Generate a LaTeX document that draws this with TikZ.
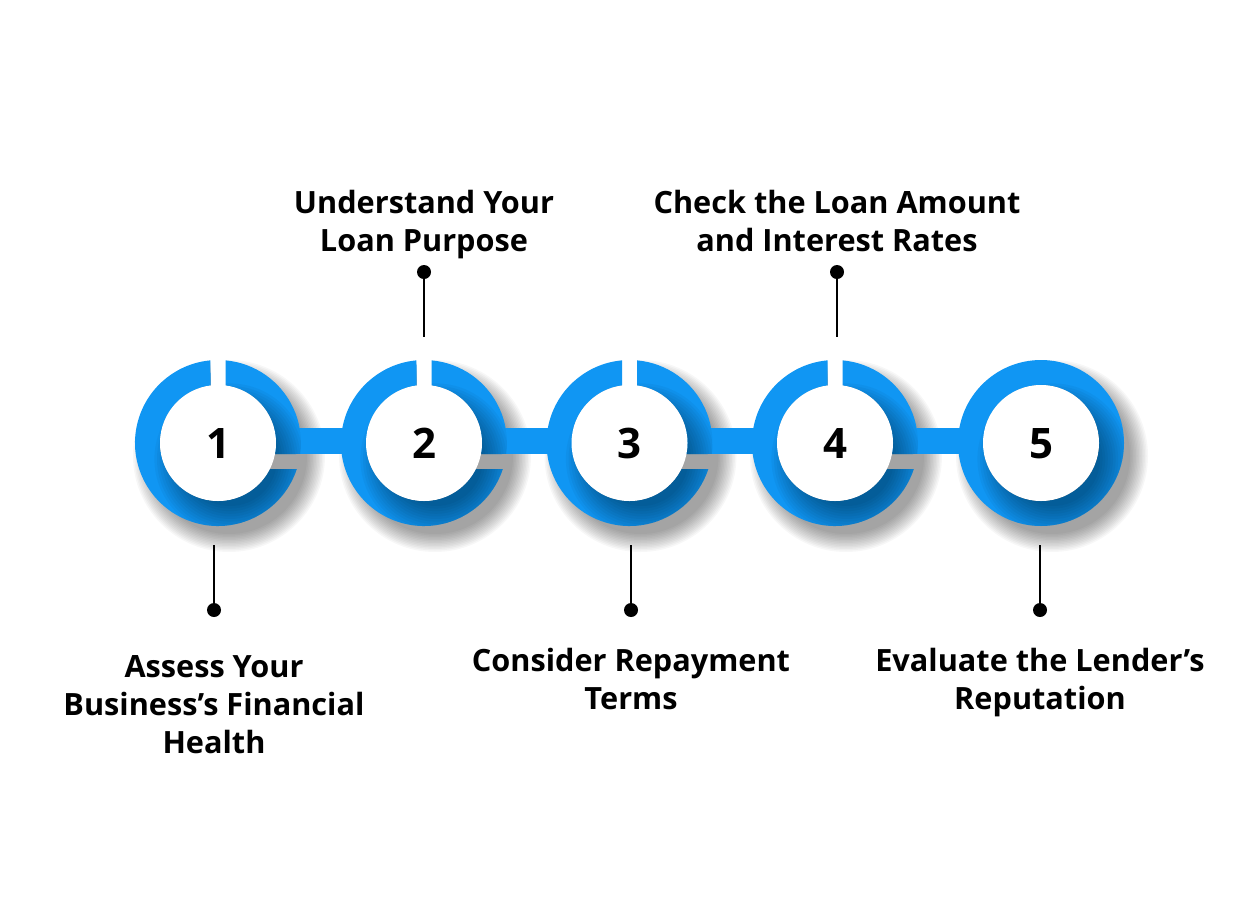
\documentclass[tikz,border=0pt]{standalone}
\usepackage{fontspec}
\setmainfont{Open Sans}
\usetikzlibrary{backgrounds}
\definecolor{ringblue}{RGB}{16,150,243}
\tikzset{
  num/.style={circle, fill=white, minimum size=87pt, inner sep=0pt,
    text height=22.5pt, text depth=0pt,
    font=\bfseries\fontsize{31.5}{31.5}\selectfont},
  lbl/.style={align=center, anchor=base, inner sep=0pt,
    font=\bfseries\fontsize{23}{28.5}\selectfont},
  dotnode/.style={circle, fill=black, minimum size=10.5pt, inner sep=0pt},
  stem/.style={line width=1.5pt, black},
  bar/.style={line width=19.5pt, ringblue},
  shadelayer/.style={fill=black, opacity=0.03},
}
\def\ringpath{(84.81:83) arc[start angle=84.81,end angle=-7.61,radius=83] -- (-10.93:58) arc[start angle=-10.93,end angle=82.57,radius=58] -- cycle
  (-18.25:83) arc[start angle=-18.25,end angle=-264.81,radius=83] -- (-262.57:58) arc[start angle=-262.57,end angle=-26.63,radius=58] -- cycle}
\begin{document}
\begin{tikzpicture}[x=0.75pt,y=0.75pt]
\useasboundingbox (0,0) rectangle (1260,-904);

% step circles
\node[num] (c1) at (218,-443) {1};
\node[num] (c2) at (424,-443) {2};
\node[num] (c3) at (629.5,-443) {3};
\node[num] (c4) at (835,-443) {4};
\node[num] (c5) at (1041,-443) {5};

\begin{scope}[on background layer]
  \fill[white] (0,0) rectangle (1260,-904);
  % outer soft shadows (stacked translucent discs)
  \foreach \cx in {218,424,629.5,835,1041}{
    \foreach \k in {0,...,12}{
      \path[shadelayer] (\cx+11,-443-13) circle ({78+1.5*\k});
    }
  }
  % clean top gaps
  \foreach \cx in {218,424,629.5,835}{
    \fill[white] (\cx-7.5,-443+52) rectangle (\cx+7.5,-443+90);
  }
  % connector bars
  \draw[bar] ([yshift=1.5pt]c1.center) -- ([yshift=1.5pt]c2.center);
  \draw[bar] ([yshift=1.5pt]c2.center) -- ([yshift=1.5pt]c3.center);
  \draw[bar] ([yshift=1.5pt]c3.center) -- ([yshift=1.5pt]c4.center);
  \draw[bar] ([yshift=1.5pt]c4.center) -- ([yshift=1.5pt]c5.center);
  % rings with gaps
  \foreach \cx in {218,424,629.5,835}{
    \begin{scope}[shift={(\cx,-443)}]
      \fill[ringblue] \ringpath;
      \begin{scope}
        \clip \ringpath;
        \foreach \k in {0,...,11}{
          \path[shadelayer, opacity=0.036] (12,-16) circle ({47+2.6*\k});
        }
      \end{scope}
    \end{scope}
  }
  % last ring, closed
  \begin{scope}[shift={(1041,-443)}]
    \fill[ringblue, even odd rule] (0,0) circle (83) (0,0) circle (58);
    \begin{scope}
      \clip (0,0) circle (83);
      \foreach \k in {0,...,11}{
        \path[shadelayer, opacity=0.036] (12,-16) circle ({47+2.6*\k});
      }
    \end{scope}
  \end{scope}
\end{scope}

% pins
\node[dotnode] (d1) at (214,-610) {};
\coordinate (e1) at (214,-545);
\draw[stem] (d1) -- (e1);
\node[dotnode] (d2) at (424,-272) {};
\coordinate (e2) at (424,-337);
\draw[stem] (d2) -- (e2);
\node[dotnode] (d3) at (631,-610) {};
\coordinate (e3) at (631,-545);
\draw[stem] (d3) -- (e3);
\node[dotnode] (d4) at (837,-272) {};
\coordinate (e4) at (837,-337);
\draw[stem] (d4) -- (e4);
\node[dotnode] (d5) at (1040,-610) {};
\coordinate (e5) at (1040,-545);
\draw[stem] (d5) -- (e5);

% labels (anchor = baseline of the last line)
\node[lbl] (t1) at (214,-753) {Assess Your\\Business’s Financial\\Health};
\node[lbl] (t2) at (424,-251) {Understand Your\\Loan Purpose};
\node[lbl] (t3) at (631,-709) {Consider Repayment\\Terms};
\node[lbl] (t4) at (837,-251) {Check the Loan Amount\\and Interest Rates};
\node[lbl] (t5) at (1040,-709) {Evaluate the Lender’s\\Reputation};
\end{tikzpicture}
\end{document}
